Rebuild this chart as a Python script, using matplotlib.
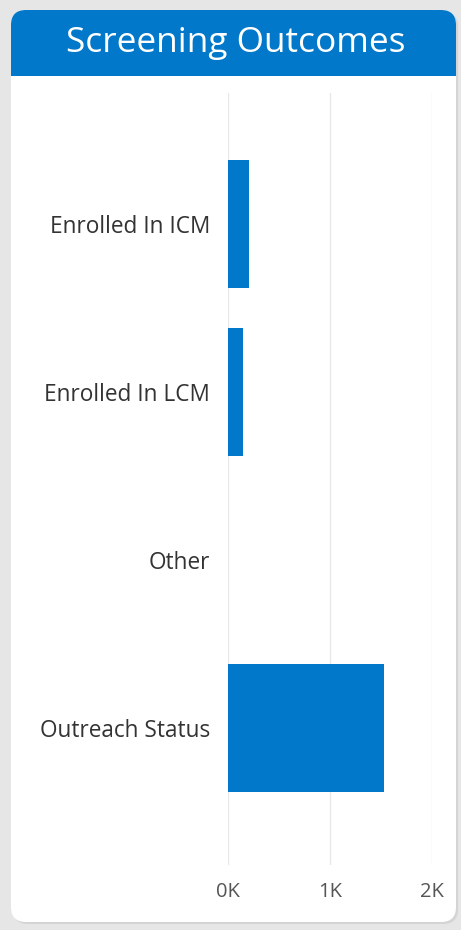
import matplotlib
matplotlib.use("Agg")
import matplotlib.pyplot as plt
from matplotlib.patches import FancyBboxPatch, Rectangle

categories = ["Enrolled In ICM", "Enrolled In LCM", "Other", "Outreach Status"]
values = [205, 145, 0, 1530]
xticks = [0, 1000, 2000]
xtick_labels = ["0K", "1K", "2K"]
title = "Screening Outcomes"

W, H = 461, 930
BLUE = "#0178C9"
plt.rcParams['font.family'] = ['Open Sans', 'DejaVu Sans']

fig = plt.figure(figsize=(W / 100, H / 100), dpi=100)
fig.patch.set_facecolor("#E6E6E6")

bg = fig.add_axes([0, 0, 1, 1])
bg.set_xlim(0, W)
bg.set_ylim(H, 0)
bg.axis("off")
r = 15
# shadow
bg.add_patch(FancyBboxPatch((13, 12), 445, 912, boxstyle=f"round,pad=0,rounding_size={r}",
                            fc="#D4D4D4", ec="none", zorder=0))
bg.add_patch(FancyBboxPatch((11, 10), 445, 912, boxstyle=f"round,pad=0,rounding_size={r}",
                            fc="white", ec="none", zorder=1))
bg.add_patch(FancyBboxPatch((11, 10), 445, 90, boxstyle=f"round,pad=0,rounding_size={r}",
                            fc=BLUE, ec="none", zorder=2))
bg.add_patch(Rectangle((11, 76), 445, 40, fc="white", ec="none", zorder=3))
bg.text(236, 43, title, color="white", fontsize=25.4, ha="center", va="center", zorder=4)

left, right = 228 / W, 432 / W
top, bottom = 93, 865
ax = fig.add_axes([left, 1 - bottom / H, right - left, (bottom - top) / H])
ax.patch.set_alpha(0)
ypos = list(range(len(categories)))
ax.barh(ypos, values, height=0.76, color=BLUE, zorder=2)
ax.set_xlim(0, 2000)
ax.set_ylim(3 + 137 / 168, -131 / 168)
ax.set_yticks(ypos)
ax.set_yticklabels(categories, fontsize=16.3, color="#333333")
for lbl in ax.get_yticklabels():
    lbl.set_y(lbl.get_position()[1])
ax.set_xticks(xticks)
ax.set_xticklabels(xtick_labels, fontsize=14.5, color="#555555")
ax.tick_params(axis="both", length=0)
ax.tick_params(axis="y", pad=13)
ax.tick_params(axis="x", pad=12)
ax.grid(axis="x", color="#E8E8E8", linewidth=1, zorder=0)
for s in ax.spines.values():
    s.set_visible(False)

fig.savefig("out.png", dpi=100, facecolor=fig.get_facecolor())
